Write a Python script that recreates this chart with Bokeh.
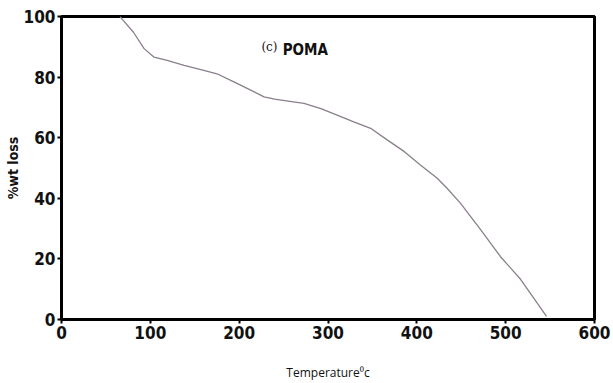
from bokeh.plotting import figure
from bokeh.models import Range1d, FixedTicker, Label
from bokeh.embed import file_html
from bokeh.resources import INLINE

temperature = [66, 68, 81, 93, 104, 119, 138, 157, 175, 194, 213, 228, 240, 255, 273,
               292, 311, 329, 348, 367, 386, 404, 423, 434, 449, 472, 494, 517, 546]
wt_loss = [100, 99.2, 94.8, 89.4, 86.6, 85.5, 83.9, 82.5, 81.1, 78.4, 75.7, 73.5, 72.7,
           72.1, 71.3, 69.6, 67.4, 65.2, 63.1, 59.2, 55.4, 51.0, 46.6, 43.3, 38.4, 29.6,
           20.8, 13.2, 1.0]
x_ticks = [0, 100, 200, 300, 400, 500, 600]
y_ticks = [0, 20, 40, 60, 80, 100]

TICK_FONT = "DejaVu Sans Condensed"

p = figure(width=613, height=383, output_backend="svg", toolbar_location=None,
           x_range=Range1d(0, 600), y_range=Range1d(0, 100),
           min_border_left=61, min_border_right=19, min_border_top=16, min_border_bottom=63)

p.line(temperature, wt_loss, line_color="#8a7f8c", line_width=1.3)

p.xgrid.visible = False
p.ygrid.visible = False
p.outline_line_color = "black"
p.outline_line_width = 3
p.outline_line_alpha = 1

for ax, ticks in ((p.xaxis[0], x_ticks), (p.yaxis[0], y_ticks)):
    ax.ticker = FixedTicker(ticks=ticks)
    ax.minor_tick_line_color = None
    ax.major_tick_in = 0
    ax.major_tick_out = 4
    ax.major_tick_line_width = 2
    ax.major_tick_line_color = "black"
    ax.axis_line_width = 3
    ax.axis_line_color = "black"
    ax.major_label_text_font = TICK_FONT
    ax.major_label_text_font_style = "bold"
    ax.major_label_text_font_size = "17px"
    ax.major_label_text_color = "#111111"
    ax.major_label_standoff = 2

p.xaxis.axis_label = "Temperature\u2070c"
p.xaxis.axis_label_text_font = "Open Sans"
p.xaxis.axis_label_text_font_style = "normal"
p.xaxis.axis_label_text_font_size = "12px"
p.xaxis.axis_label_text_color = "#111111"
p.xaxis.axis_label_standoff = 22

p.yaxis.axis_label = "%wt loss"
p.yaxis.axis_label_text_font = TICK_FONT
p.yaxis.axis_label_text_font_style = "bold"
p.yaxis.axis_label_text_font_size = "14px"
p.yaxis.axis_label_text_color = "#111111"
p.yaxis.axis_label_standoff = 0

p.add_layout(Label(x=225, y=89.8, text="(c)", text_font="DejaVu Serif",
                   text_font_size="12px", text_color="#111111", text_baseline="middle"))
p.add_layout(Label(x=249, y=88.8, text="POMA", text_font=TICK_FONT,
                   text_font_style="bold", text_font_size="15px", text_color="#111111",
                   text_baseline="middle"))

open("out.html", "w").write(file_html(p, INLINE))
